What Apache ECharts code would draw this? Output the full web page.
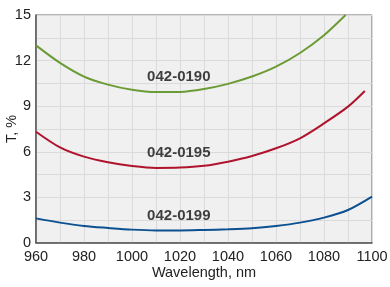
<!DOCTYPE html>
<html>
<head>
<meta charset="UTF-8">
<script src="https://cdn.jsdelivr.net/npm/echarts@6/dist/echarts.min.js"></script>
<style>
    html, body { margin: 0; padding: 0; background: #fff; }
</style>
</head>
<body>
<div id="chart" style="width: 390px; height: 287px;"></div>
<script type="text/javascript">
    // wavelength, nm
    var waves = [960, 970, 980, 990, 1000, 1010, 1020, 1030, 1040, 1050, 1060, 1070, 1080, 1090, 1100];
    // transmission, %
    var t0190 = [13.0, 11.85, 10.95, 10.42, 10.08, 9.93, 9.94, 10.13, 10.47, 10.95, 11.6, 12.5, 13.67];
    var t0190End = [1089, 15.0];
    var t0195 = [7.32, 6.29, 5.68, 5.31, 5.07, 4.94, 4.96, 5.08, 5.35, 5.72, 6.23, 6.89, 7.87, 8.97];
    var t0195End = [1097, 10.0];
    var t0199 = [1.62, 1.34, 1.12, 0.99, 0.88, 0.83, 0.83, 0.86, 0.9, 0.97, 1.12, 1.34, 1.67, 2.17, 3.05];

    var names = ['042-0190', '042-0195', '042-0199'];
    var labelAt = [[1019.5, 10.95], [1019.5, 5.9], [1019.5, 1.8]];
    var colors = ['#6b9b35', '#b0132d', '#0b5090'];

    function pairs(vals, last) {
        var out = [];
        for (var i = 0; i < vals.length; i++) {
            out.push([waves[i], vals[i]]);
        }
        if (last) out.push(last);
        return out;
    }

    var curves = [pairs(t0190, t0190End), pairs(t0195, t0195End), pairs(t0199)];
    var font = 'Liberation Sans, Arial';

    var series = [];
    for (var i = 0; i < curves.length; i++) {
        series.push({
            name: names[i],
            type: 'line',
            data: curves[i],
            smooth: 0.3,
            showSymbol: false,
            lineStyle: { color: colors[i], width: 2 },
            z: 3
        });
    }
    series.push({
        type: 'scatter',
        symbolSize: 0,
        data: labelAt.map(function (p, k) { return { value: p, name: names[k] }; }),
        label: {
            show: true,
            position: 'inside',
            formatter: '{b}',
            fontFamily: font,
            fontWeight: 'bold',
            fontSize: 15,
            color: '#111'
        },
        z: 4
    });

    var chart = echarts.init(document.getElementById('chart'));
    chart.setOption({
        animation: false,
        grid: {
            left: 36, right: 18, top: 15, bottom: 44,
            containLabel: false,
            outerBoundsMode: 'none',
            show: true,
            backgroundColor: '#f0f0f0',
            borderColor: '#6a6a6a',
            borderWidth: 1
        },
        xAxis: {
            type: 'value',
            min: 960, max: 1100, interval: 10,
            name: 'Wavelength, nm',
            nameLocation: 'middle',
            nameGap: 22,
            nameMoveOverlap: false,
            nameTextStyle: { fontFamily: font, fontSize: 14.5, color: '#222' },
            axisLine: { show: true, lineStyle: { color: '#555', width: 1.5 } },
            axisTick: { show: false },
            axisLabel: {
                fontFamily: font, fontSize: 14.5, color: '#222', margin: 6,
                formatter: function (v) { return v % 20 === 0 ? String(v) : ''; }
            },
            splitLine: { show: true, lineStyle: { color: '#dadada', width: 1 } }
        },
        yAxis: {
            type: 'value',
            min: 0, max: 15, interval: 1.5,
            name: 'T, %',
            nameLocation: 'middle',
            nameGap: 17,
            nameMoveOverlap: false,
            nameTextStyle: { fontFamily: font, fontSize: 14.5, color: '#222' },
            axisLine: { show: true, lineStyle: { color: '#555', width: 1.5 } },
            axisTick: { show: false },
            axisLabel: {
                fontFamily: font, fontSize: 14.5, color: '#222', margin: 5,
                formatter: function (v) { return Math.abs(v % 3) < 1e-6 ? String(v) : ''; }
            },
            splitLine: { show: true, lineStyle: { color: '#dadada', width: 1 } }
        },
        series: series
    });
</script>
</body>
</html>
